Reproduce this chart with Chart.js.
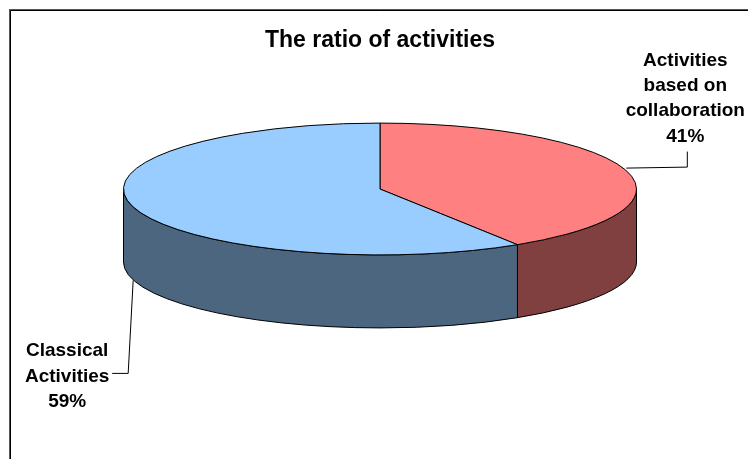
<!DOCTYPE html>
<html>
<head>
<meta charset="utf-8">
<script src="https://cdn.jsdelivr.net/npm/chart.js@4/dist/chart.umd.min.js"></script>
<style>
  html, body { margin: 0; padding: 0; background: #fff; }
  #wrap { width: 748px; height: 459px; }
</style>
</head>
<body>
<div id="wrap"><canvas id="pie3d" width="748" height="459"></canvas></div>
<script>
const labels = ['Activities based on collaboration', 'Classical Activities'];
const values = [41, 59];
const topColors = ['#FF8080', '#99CCFF'];
const sideColors = ['#804040', '#4D6680'];
// how each label is split on lines
const labelLines = [['Activities', 'based on', 'collaboration', '41%'], ['Classical', 'Activities', '59%']];

const tilt = 0.257;   // ry / rx
const depth = 73;

// draws the pie as a tilted 3d disc using the arcs chart.js computed
const pie3d = {
  id: 'pie3d',
  beforeDraw(chart) {
    const ctx = chart.ctx;
    ctx.save();
    ctx.fillStyle = '#fff';
    ctx.fillRect(0, 0, chart.width, chart.height);
    // frame (only top/left visible in the original crop)
    ctx.strokeStyle = '#555';
    ctx.lineWidth = 2;
    ctx.beginPath();
    ctx.moveTo(10, chart.height);
    ctx.lineTo(10, 10);
    ctx.lineTo(chart.width, 10);
    ctx.stroke();
    ctx.strokeStyle = '#000';
    ctx.lineWidth = 1;
    ctx.beginPath();
    ctx.moveTo(10.5, chart.height);
    ctx.lineTo(10.5, 10.5);
    ctx.lineTo(chart.width, 10.5);
    ctx.stroke();
    ctx.restore();
  },
  beforeDatasetsDraw(chart) {
    const ctx = chart.ctx;
    const arcs = chart.getDatasetMeta(0).data;
    ctx.save();
    ctx.lineWidth = 1;
    ctx.strokeStyle = '#000';
    ctx.lineJoin = 'round';
    // side walls first (front half only)
    arcs.forEach((arc, i) => {
      const { x, y, startAngle, endAngle, outerRadius } = arc.getProps(['x', 'y', 'startAngle', 'endAngle', 'outerRadius']);
      const ry = outerRadius * tilt;
      const ranges = [[0, Math.PI], [2 * Math.PI, 3 * Math.PI]];
      ranges.forEach(([lo, hi]) => {
        const a = Math.max(startAngle, lo), b = Math.min(endAngle, hi);
        if (b <= a) return;
        ctx.beginPath();
        ctx.ellipse(x, y, outerRadius, ry, 0, a, b, false);
        ctx.lineTo(x + outerRadius * Math.cos(b), y + depth + ry * Math.sin(b));
        ctx.ellipse(x, y + depth, outerRadius, ry, 0, b, a, true);
        ctx.closePath();
        ctx.fillStyle = sideColors[i];
        ctx.fill();
        ctx.stroke();
      });
    });
    // top faces
    arcs.forEach((arc, i) => {
      const { x, y, startAngle, endAngle, outerRadius } = arc.getProps(['x', 'y', 'startAngle', 'endAngle', 'outerRadius']);
      ctx.beginPath();
      ctx.moveTo(x, y);
      ctx.ellipse(x, y, outerRadius, outerRadius * tilt, 0, startAngle, endAngle, false);
      ctx.closePath();
      ctx.fillStyle = topColors[i];
      ctx.fill();
      ctx.stroke();
    });
    ctx.restore();
    return false;
  },
  afterDraw(chart) {
    const ctx = chart.ctx;
    const arcs = chart.getDatasetMeta(0).data;
    ctx.save();
    ctx.font = 'bold 19px Arial, "Liberation Sans", sans-serif';
    ctx.textAlign = 'center';
    ctx.textBaseline = 'alphabetic';
    ctx.fillStyle = '#000';
    ctx.strokeStyle = '#000';
    ctx.lineWidth = 1;
    arcs.forEach((arc, i) => {
      const { x, y, startAngle, endAngle, outerRadius } = arc.getProps(['x', 'y', 'startAngle', 'endAngle', 'outerRadius']);
      const mid = (startAngle + endAngle) / 2;
      const ry = outerRadius * tilt;
      const front = Math.sin(mid) > 0;
      const ax = x + outerRadius * Math.cos(mid);
      const ay = y + ry * Math.sin(mid) + (front ? depth : 0);
      const lines = labelLines[i];
      ctx.beginPath();
      let tx, firstBase;
      if (Math.cos(mid) > 0) {
        // label above-right
        ctx.moveTo(ax, ay - 2.5);
        ctx.lineTo(ax + 61, ay - 3.5);
        ctx.lineTo(ax + 61, ay - 19);
        tx = ax + 59;
        firstBase = ay - 105;
      } else {
        // label below-left
        ctx.moveTo(ax - 0.5, ay);
        ctx.lineTo(ax - 5.5, ay + 93);
        ctx.lineTo(ax - 21.5, ay + 93);
        tx = ax - 66.5;
        firstBase = ay + 76;
      }
      ctx.stroke();
      lines.forEach((t, k) => ctx.fillText(t, tx, firstBase + k * 25.3));
    });
    ctx.restore();
  }
};

new Chart(document.getElementById('pie3d'), {
  type: 'pie',
  data: {
    labels: labels,
    datasets: [{
      data: values,
      backgroundColor: topColors,
      borderWidth: 0
    }]
  },
  options: {
    responsive: false,
    animation: false,
    radius: 256.5,
    layout: { padding: { left: 123.5, right: 111.5, top: 0, bottom: 145.6 } },
    plugins: {
      legend: { display: false },
      tooltip: { enabled: false },
      title: {
        display: true,
        text: 'The ratio of activities',
        color: '#000',
        font: { family: 'Arial, "Liberation Sans", sans-serif', size: 23, weight: 'bold', lineHeight: 1.2 },
        padding: { top: 27, bottom: 10 }
      }
    }
  },
  plugins: [pie3d]
});
</script>
</body>
</html>
